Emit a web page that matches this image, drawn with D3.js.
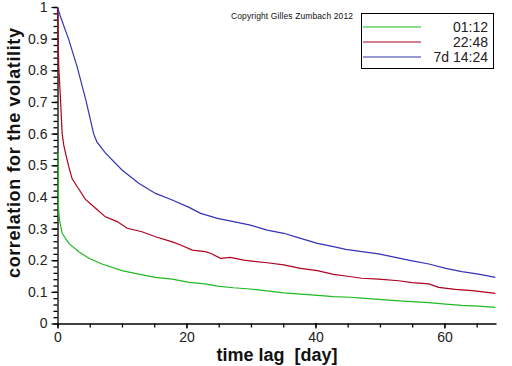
<!DOCTYPE html>
<html><head><meta charset="utf-8">
<script src="https://cdn.jsdelivr.net/npm/d3@7"></script>
<style>body{margin:0;background:#fff}svg{display:block}</style>
</head><body>
<script>
const seriesNames = ["01:12", "22:48", "7d 14:24"];
const seriesColors = ["#1fba1f", "#b0001e", "#3434b4"];
const green = [[0.13,0.54],[0.15,0.365],[0.31,0.327],[0.72,0.285],[1.76,0.253],[3.3,0.227],[4.86,0.206],[6.9,0.188],[10,0.167],[12.6,0.156],[15.2,0.146],[17.8,0.14],[20.4,0.13],[22.9,0.125],[24.8,0.118],[27.3,0.113],[29.9,0.109],[32.5,0.103],[35.1,0.097],[37.7,0.093],[40.3,0.089],[42.8,0.085],[45.4,0.083],[47.2,0.08],[49.8,0.076],[52.4,0.072],[55,0.069],[57.6,0.066],[60.2,0.061],[62.7,0.057],[65.3,0.055],[67.9,0.051]];
const red = [[0,1],[0.05,0.917],[0.2,0.81],[0.47,0.706],[0.72,0.6],[1.0,0.56],[1.4,0.525],[1.76,0.495],[2.27,0.457],[3.3,0.425],[4.3,0.393],[5.9,0.364],[7.44,0.337],[9.25,0.322],[10.8,0.301],[13.1,0.29],[15.2,0.274],[17.8,0.258],[19.1,0.248],[20.9,0.232],[22.9,0.227],[23.7,0.222],[25.3,0.206],[26.8,0.209],[28.9,0.2],[32.5,0.192],[35.1,0.185],[37.7,0.174],[40.3,0.167],[42.8,0.155],[44.7,0.15],[47.2,0.143],[49.8,0.14],[52.9,0.135],[55,0.129],[57.6,0.125],[59.1,0.114],[61.7,0.108],[64.3,0.104],[67.9,0.095]];
const blue = [[0,1],[0.15,0.99],[0.47,0.969],[1.76,0.896],[3.05,0.811],[4.4,0.706],[5.6,0.6],[6.1,0.574],[7.45,0.538],[10,0.485],[12.6,0.443],[15.2,0.411],[17.8,0.39],[20.4,0.367],[22.2,0.348],[24.8,0.332],[27.3,0.322],[29.9,0.311],[32.5,0.295],[35.1,0.285],[37.7,0.269],[40.3,0.253],[42.8,0.243],[44.7,0.234],[47.2,0.227],[49.8,0.22],[52.4,0.209],[55,0.198],[57.6,0.188],[60.2,0.174],[62.7,0.164],[65.3,0.156],[67.9,0.146]];
const xTicks = [0, 20, 40, 60];
const yTicks = [0, 0.1, 0.2, 0.3, 0.4, 0.5, 0.6, 0.7, 0.8, 0.9, 1];
const xMinor = d3.range(0, 70, 5);
const yMinor = d3.range(0, 1.001, 0.02);

const W = 512, H = 366;
const svg = d3.select("body").append("svg").attr("width", W).attr("height", H);
const x = d3.scaleLinear().domain([0, 68]).range([57.5, 496]);
const y = d3.scaleLinear().domain([0, 1]).range([323.5, 7]);

const line = d3.line().x(d => x(d[0])).y(d => y(d[1]));

// axes
const ax = svg.append("g").attr("transform", `translate(0,${y(0)})`)
  .call(d3.axisBottom(x).tickValues(xMinor).tickSize(4).tickFormat(""));
ax.select(".domain").remove();
svg.append("g").attr("transform", `translate(0,${y(0)})`)
  .call(d3.axisBottom(x).tickValues(xTicks).tickSize(5).tickSizeOuter(0).tickPadding(4))
  .call(g => g.selectAll("text").attr("font-size", 14).attr("font-family", "Liberation Sans, Arial, sans-serif").attr("fill", "#222"));
const ay = svg.append("g").attr("transform", `translate(${x(0)},0)`)
  .call(d3.axisLeft(y).tickValues(yMinor).tickSize(4).tickFormat(""));
ay.select(".domain").remove();
svg.append("g").attr("transform", `translate(${x(0)},0)`)
  .call(d3.axisLeft(y).tickValues(yTicks).tickSize(6).tickSizeOuter(0).tickPadding(4).tickFormat(d3.format("")))
  .call(g => g.selectAll("text").attr("font-size", 14).attr("font-family", "Liberation Sans, Arial, sans-serif").attr("fill", "#222"));
svg.selectAll(".domain, .tick line").attr("stroke", "#000").attr("stroke-width", 1.3);

[green, red, blue].forEach((s, i) => {
  svg.append("path").attr("d", line(s)).attr("fill", "none")
    .attr("stroke", seriesColors[i]).attr("stroke-width", 1.2);
});

// titles
svg.append("text").attr("x", 277).attr("y", 361).attr("text-anchor", "middle")
  .attr("font-family", "Liberation Sans, Arial, sans-serif").attr("font-size", 18)
  .attr("font-weight", "bold").attr("fill", "#111").attr("xml:space","preserve").text("time lag  [day]");
svg.append("text").attr("transform", "translate(20,153) rotate(-90)").attr("text-anchor", "middle")
  .attr("font-family", "Liberation Sans, Arial, sans-serif").attr("font-size", 18)
  .attr("font-weight", "bold").attr("textLength", 250).attr("fill", "#111").text("correlation for the volatility");
svg.append("text").attr("x", 231).attr("y", 19).attr("font-family", "Liberation Sans, Arial, sans-serif")
  .attr("font-size", 8.5).attr("textLength", 122).attr("fill", "#111").text("Copyright Gilles Zumbach 2012");

// legend
const lg = svg.append("g");
lg.append("rect").attr("x", 361.5).attr("y", 13.5).attr("width", 132).attr("height", 55)
  .attr("fill", "#fff").attr("stroke", "#000").attr("stroke-width", 1);
seriesNames.forEach((n, i) => {
  const yy = 27 + i * 15;
  lg.append("line").attr("x1", 363).attr("x2", 421).attr("y1", yy).attr("y2", yy)
    .attr("stroke", seriesColors[i]).attr("stroke-width", 1.2);
  lg.append("text").attr("x", 488).attr("y", yy + 5).attr("text-anchor", "end")
    .attr("font-family", "Liberation Sans, Arial, sans-serif").attr("font-size", 14).attr("fill", "#222").text(n);
});
</script>
</body></html>
